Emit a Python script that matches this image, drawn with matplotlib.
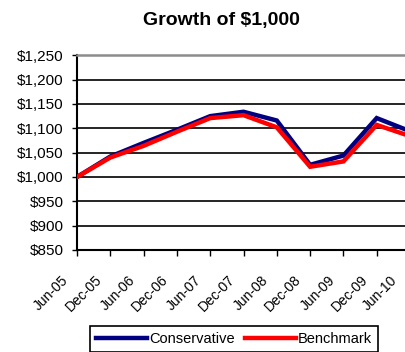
import matplotlib
matplotlib.use('Agg')
import matplotlib.pyplot as plt
import matplotlib.transforms as mtransforms
from matplotlib.ticker import FuncFormatter

# data (value of $1,000 invested)
dates = ['Jun-05', 'Dec-05', 'Jun-06', 'Dec-06', 'Jun-07', 'Dec-07',
         'Jun-08', 'Dec-08', 'Jun-09', 'Dec-09', 'Jun-10']
conservative = [1000, 1042, 1070, 1097, 1125, 1134, 1116, 1025, 1044, 1121, 1094]
benchmark = [1000, 1040, 1064, 1093, 1121, 1127, 1102, 1021, 1032, 1107, 1084]

plt.rcParams['font.family'] = ['Liberation Sans', 'DejaVu Sans']

fig = plt.figure(figsize=(4.06, 3.52), dpi=100)
# plot area runs slightly past the right edge, like the original
ax = fig.add_axes([77 / 406, 102 / 352, 333 / 406, 194.7 / 352])

x = range(len(dates))
ax.plot(x, conservative, color='#000080', lw=3.2, label='Conservative',
        solid_joinstyle='miter', zorder=3)
ax.plot(x, benchmark, color='#ff0000', lw=3.2, label='Benchmark',
        solid_joinstyle='miter', zorder=4)

ax.set_xlim(0, len(dates) - 1)
ax.set_ylim(850, 1250)
ax.set_yticks(range(850, 1251, 50))
ax.yaxis.set_major_formatter(FuncFormatter(lambda v, p: '${:,.0f}'.format(v)))
ax.set_xticks(list(x))
ax.set_xticklabels(dates, rotation=45, ha='right')

ax.grid(axis='y', color='black', lw=1.2)
ax.set_axisbelow(False)
ax.spines['right'].set_visible(False)
ax.spines['top'].set_color('#8c8c8c')
ax.spines['top'].set_linewidth(1.8)
ax.spines['top'].set_zorder(5)
ax.spines['left'].set_linewidth(1.5)
ax.spines['bottom'].set_linewidth(1.5)
ax.tick_params(axis='y', length=3.6, width=1, pad=6, labelsize=11)
ax.tick_params(axis='x', length=4.5, width=1, pad=12, labelsize=10)

# shift date labels a little left, the last one a bit more so it stays inside
labels = ax.get_xticklabels()
for i, lab in enumerate(labels):
    dx = -10 if i == len(labels) - 1 else -6
    off = mtransforms.ScaledTranslation(dx / 100, 0, fig.dpi_scale_trans)
    lab.set_transform(lab.get_transform() + off)

ax.set_title('Growth of $1,000', fontsize=14, fontweight='bold',
             x=(221 - 77) / 333, pad=22)

leg = fig.legend(loc='upper center', bbox_to_anchor=(234 / 406, 26 / 352), ncol=2,
                 fontsize=10.5, frameon=True, fancybox=False, edgecolor='black',
                 framealpha=1, handlelength=3.5, handletextpad=0.15,
                 columnspacing=0.7, borderpad=0.4, borderaxespad=0)
leg.get_frame().set_linewidth(1.2)

fig.savefig('out.png', dpi=100)
